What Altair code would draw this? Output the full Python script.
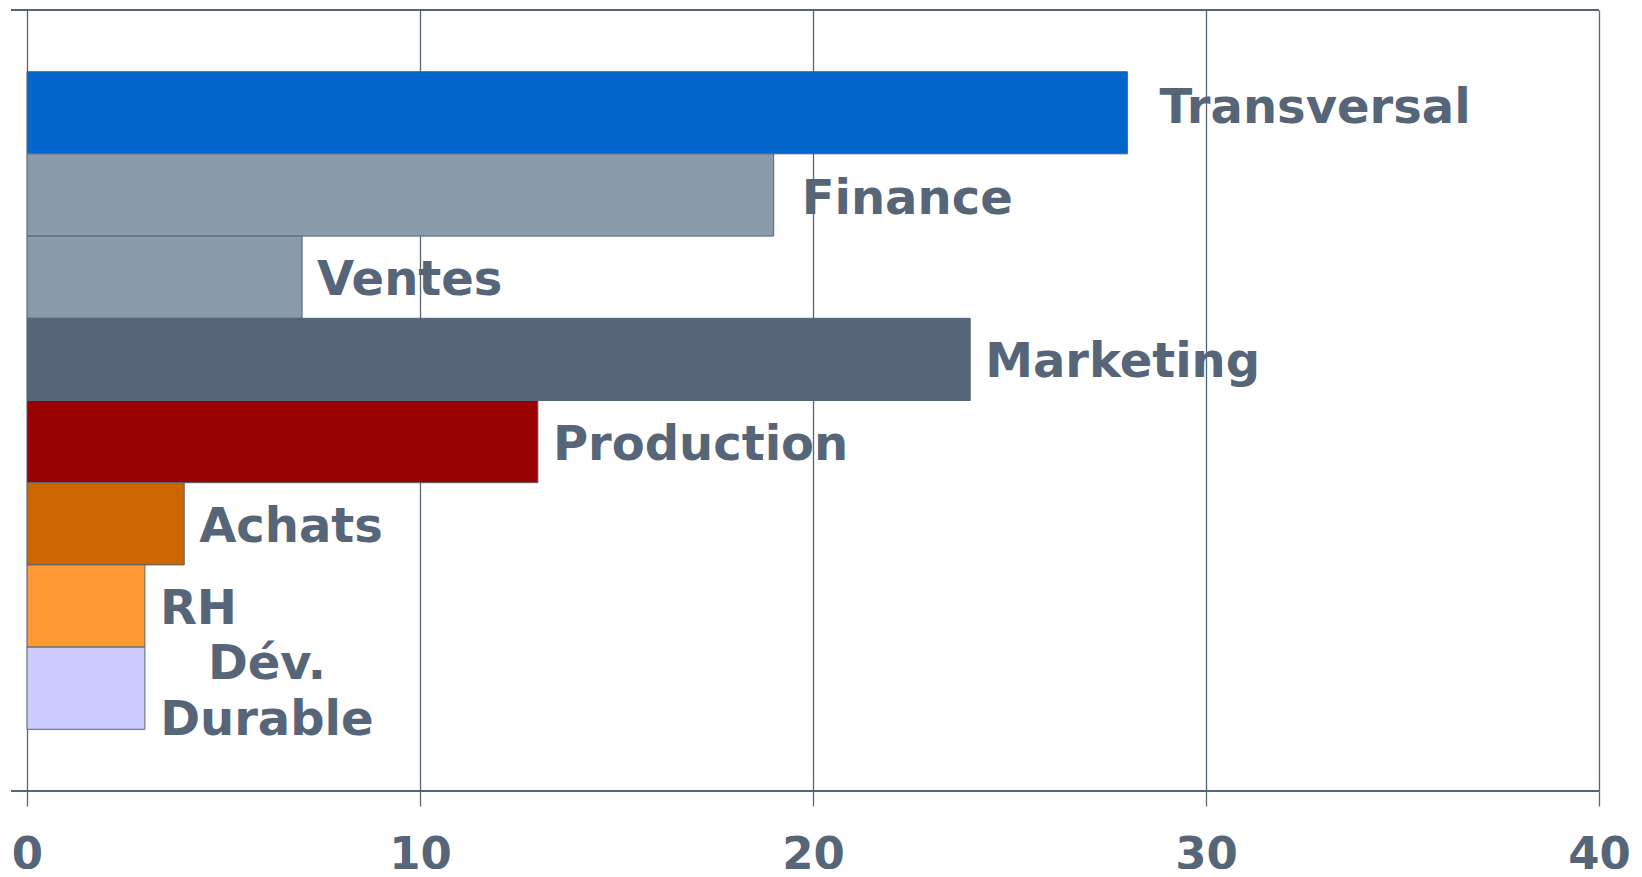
import altair as alt
import pandas as pd

categories = ["Transversal", "Finance", "Ventes", "Marketing", "Production", "Achats", "RH", "Dév. Durable"]
values = [28, 19, 7, 24, 13, 4, 3, 3]
labels = ["Transversal", "Finance", "Ventes", "Marketing", "Production", "Achats", "RH", "Dév.\nDurable"]
colors = ["#0066CC", "#8A9BAA", "#8A9BAA", "#566577", "#990000", "#CC6600", "#FF9933", "#CCCCFF"]
x_ticks = [0, 10, 20, 30, 40]

df = pd.DataFrame({"cat": categories, "value": values, "label": labels})

W, H = 1572, 781
INK = "#566577"
FONT = "DejaVu Sans"

y_enc = alt.Y("cat:N", sort=categories,
              scale=alt.Scale(paddingInner=0, paddingOuter=0.75), axis=None)
x_enc = alt.X("value:Q", scale=alt.Scale(domain=[0, 40], nice=False, zero=True),
              axis=alt.Axis(values=x_ticks, grid=True, gridColor=INK, gridWidth=1.3,
                            tickSize=15, tickColor=INK, tickWidth=1.3, domain=False,
                            labelFont=FONT, labelFontSize=45, labelFontWeight="bold",
                            labelColor=INK, labelPadding=26, labelFlush=False,
                            title=None, format="d"))

base = alt.Chart(df)

bars = base.mark_bar(stroke=INK, strokeWidth=1, opacity=1).encode(
    x=x_enc,
    y=y_enc,
    color=alt.Color("cat:N", scale=alt.Scale(domain=categories, range=colors), legend=None),
)

def label_layer(names, dx, dy, align="left", **kw):
    return base.transform_filter(
        alt.FieldOneOfPredicate(field="cat", oneOf=names)
    ).mark_text(align=align, baseline="middle", dx=dx, dy=dy, font=FONT,
                fontSize=48, fontWeight="bold", color=INK, **kw).encode(
        x="value:Q",
        y=alt.Y("cat:N", sort=categories),
        text="label:N",
    )

t1 = label_layer(["Transversal"], 32, -4)
t2 = label_layer(["Finance"], 28, 5)
t3 = label_layer(["Ventes", "Marketing", "Production", "Achats", "RH"], 15, 4)
t4 = label_layer(["Dév. Durable"], 122, -23, align="center", lineBreak="\n", lineHeight=56)

top_rule = alt.Chart(df).mark_rule(color=INK, strokeWidth=1.3).encode(
    x=alt.value(-16), x2=alt.value(W), y=alt.value(0))
bottom_rule = alt.Chart(df).mark_rule(color=INK, strokeWidth=1.3).encode(
    x=alt.value(-16), x2=alt.value(W), y=alt.value(H))

chart = alt.layer(bars, t1, t2, t3, t4, top_rule, bottom_rule).properties(
    width=W, height=H,
    autosize=alt.AutoSizeParams(type="none"),
    padding={"left": 19, "top": 2, "right": 35, "bottom": 78},
).configure_view(stroke=None).configure(background="white")

chart.save("out.html", embed_options={"renderer": "svg", "actions": False})
